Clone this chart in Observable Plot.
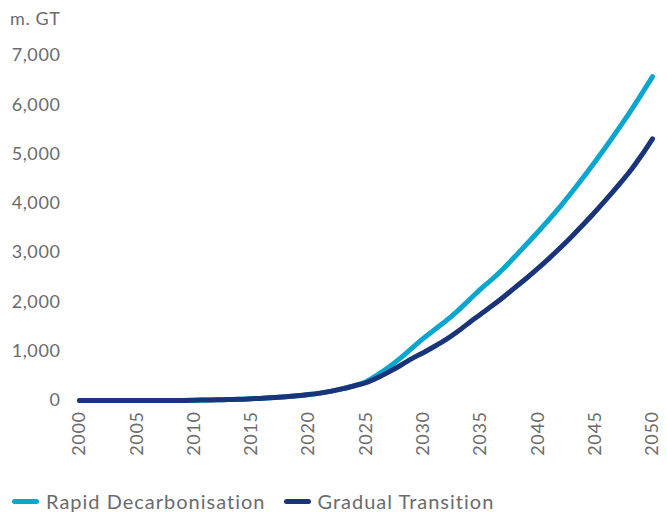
<!DOCTYPE html>
<html>
<head>
<meta charset="utf-8">
<script src="https://cdn.jsdelivr.net/npm/d3@7"></script>
<script src="https://cdn.jsdelivr.net/npm/@observablehq/plot@0.6"></script>
<style>
  body { margin: 0; background: #fff; font-family: Lato, "Open Sans", sans-serif; color: #6b6b6b; }
  #wrap { width: 667px; height: 512px; position: relative; overflow: hidden; }
  #unit { position: absolute; left: 10px; top: 7px; font-size: 18px; letter-spacing: 0.6px; color: #6b6b6b; }
  #chart { position: absolute; left: 0; top: 35px; }
  #legend { position: absolute; left: 12px; top: 489px; display: flex; align-items: center; font-size: 20px; letter-spacing: 1px; color: #6b6b6b; white-space: nowrap; }
  .sw { display: inline-block; width: 27px; height: 5px; border-radius: 3px; margin-right: 7px; }
  .item { display: flex; align-items: center; margin-right: 18px; }
</style>
</head>
<body>
<div id="wrap">
  <div id="unit">m. GT</div>
  <div id="chart"></div>
  <div id="legend"></div>
</div>
<script>
const years = d3.range(2000, 2051);
const seriesNames = ["Rapid Decarbonisation", "Gradual Transition"];
const seriesColors = ["#0aa6cf", "#1a3479"];
const rapid = [0, 0, 0, 0, 0, 0, 0, 0, 0, 2, 5, 10, 15, 20, 25, 35, 45, 60, 75, 95,
  120, 150, 190, 240, 300, 380, 520, 680, 860, 1060, 1260, 1440, 1620, 1820, 2040, 2260,
  2460, 2680, 2920, 3170, 3420, 3680, 3950, 4240, 4540, 4850, 5170, 5500, 5840, 6200, 6570];
const gradual = [0, 0, 0, 0, 0, 0, 0, 0, 0, 2, 5, 10, 15, 20, 25, 35, 45, 60, 75, 95,
  120, 150, 190, 240, 300, 360, 460, 580, 710, 850, 970, 1100, 1240, 1400, 1580, 1750,
  1920, 2100, 2290, 2480, 2680, 2890, 3110, 3340, 3580, 3830, 4090, 4360, 4640, 4960, 5310];
const yTicks = [0, 1000, 2000, 3000, 4000, 5000, 6000, 7000];
const xTicks = d3.range(2000, 2051, 5);

const data = [];
years.forEach((y, i) => {
  data.push({year: y, value: rapid[i], series: seriesNames[0]});
  data.push({year: y, value: gradual[i], series: seriesNames[1]});
});

const plot = Plot.plot({
  width: 667,
  height: 440,
  marginTop: 20,
  marginBottom: 75,
  marginLeft: 79,
  marginRight: 15,
  style: {fontFamily: "Lato, 'Open Sans', sans-serif", fontSize: "18px", letterSpacing: "0.6px", color: "#6b6b6b", background: "transparent"},
  x: {domain: [2000, 2050], ticks: xTicks, tickFormat: d => String(d), label: null},
  y: {domain: [0, 7000], ticks: yTicks, tickFormat: d3.format(","), label: null},
  color: {domain: seriesNames, range: seriesColors},
  marks: [
    Plot.axisY({ticks: yTicks, tickFormat: d3.format(","), tickSize: 0, tickPadding: 19, label: null, fontSize: 18}),
    Plot.axisX({ticks: xTicks, tickFormat: d => String(d), tickSize: 0, tickPadding: 11, tickRotate: -90, label: null, fontSize: 18}),
    Plot.line(data, {x: "year", y: "value", z: "series", stroke: "series", strokeWidth: 5, strokeLinecap: "round", strokeLinejoin: "round", curve: "monotone-x"})
  ]
});
document.getElementById("chart").appendChild(plot);

const legend = document.getElementById("legend");
seriesNames.forEach((n, i) => {
  const item = document.createElement("div");
  item.className = "item";
  const sw = document.createElement("span");
  sw.className = "sw";
  sw.style.background = seriesColors[i];
  item.appendChild(sw);
  item.appendChild(document.createTextNode(n));
  legend.appendChild(item);
});
</script>
</body>
</html>
